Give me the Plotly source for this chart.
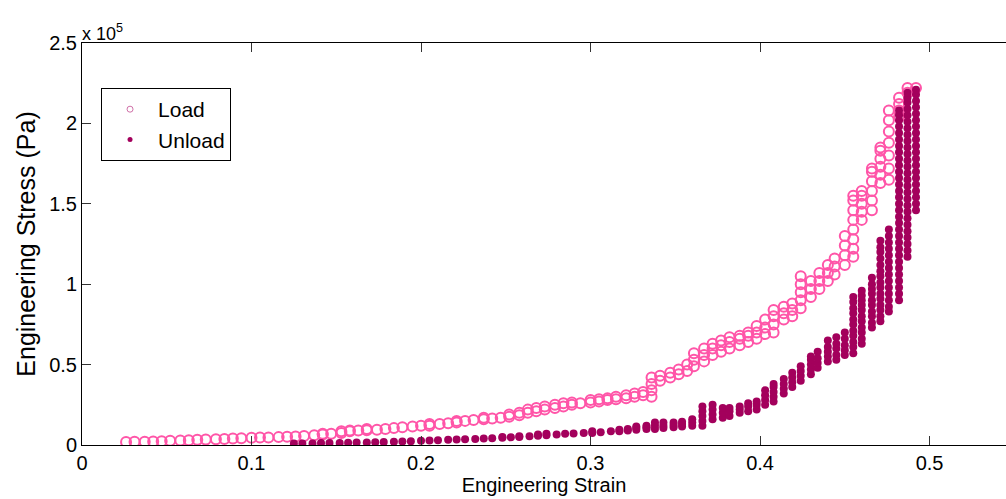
import plotly.graph_objects as go

# ---------------- data (stress in units of 1e5 Pa) ----------------
load_strain = [
    0.026, 0.031, 0.037, 0.042, 0.047, 0.052, 0.058, 0.063, 0.068, 0.073,
    0.079, 0.084, 0.089, 0.094, 0.100, 0.105, 0.110, 0.116, 0.121, 0.126,
    0.131, 0.137, 0.142, 0.147, 0.153, 0.158, 0.163, 0.168, 0.174, 0.179,
    0.184, 0.189, 0.195, 0.200, 0.205, 0.211, 0.216, 0.221, 0.226, 0.231,
    0.237, 0.242, 0.247, 0.252, 0.258, 0.263, 0.268, 0.273, 0.279, 0.284,
    0.289, 0.294, 0.300, 0.305, 0.310, 0.315, 0.321, 0.326, 0.331, 0.336,
    0.341, 0.347, 0.352, 0.357, 0.361, 0.367, 0.372, 0.377, 0.382, 0.388,
    0.393, 0.398, 0.403, 0.408, 0.414, 0.419, 0.424, 0.430, 0.435, 0.440,
    0.444, 0.450, 0.455, 0.460, 0.466, 0.471, 0.476, 0.482, 0.487, 0.492,
]
load_stress = [
    [0.018], [0.02], [0.02], [0.022], [0.024], [0.026], [0.028], [0.03], [0.032], [0.034],
    [0.036], [0.038], [0.04], [0.042], [0.045], [0.046], [0.047], [0.049], [0.051], [0.053],
    [0.056], [0.06], [0.065, 0.07], [0.07], [0.075, 0.085], [0.085, 0.09], [0.09], [0.092, 0.1], [0.095], [0.1],
    [0.105], [0.11], [0.115], [0.12], [0.12, 0.13], [0.13], [0.135], [0.14, 0.15], [0.15], [0.155],
    [0.16, 0.17], [0.165], [0.17], [0.175, 0.19], [0.185, 0.2], [0.2, 0.22], [0.21, 0.23], [0.22, 0.24], [0.23, 0.25], [0.24, 0.26],
    [0.25, 0.265], [0.26], [0.265, 0.28], [0.27, 0.285], [0.28, 0.29], [0.285, 0.3], [0.29, 0.31], [0.3, 0.32], [0.31, 0.33], [0.3, 0.34, 0.38, 0.42],
    [0.4, 0.43], [0.42, 0.45], [0.44, 0.47], [0.46, 0.5], [0.49, 0.53, 0.57], [0.52, 0.56, 0.6], [0.56, 0.6, 0.63], [0.58, 0.62, 0.65], [0.6, 0.64, 0.67], [0.62, 0.66, 0.68],
    [0.64, 0.68, 0.7], [0.66, 0.7, 0.74], [0.69, 0.73, 0.78], [0.7, 0.75, 0.8, 0.84], [0.78, 0.82, 0.86], [0.8, 0.84, 0.88], [0.85, 0.9, 0.95, 1.0, 1.05], [0.92, 0.97, 1.02], [0.97, 1.02, 1.07], [1.02, 1.07, 1.12],
    [1.06, 1.11, 1.16], [1.12, 1.18, 1.24, 1.3],
    [1.17, 1.22, 1.28, 1.34, 1.4, 1.46, 1.52, 1.55],
    [1.4, 1.45, 1.5, 1.55, 1.58],
    [1.46, 1.52, 1.58, 1.64, 1.7, 1.72],
    [1.63, 1.68, 1.73, 1.78, 1.83, 1.85],
    [1.65, 1.72, 1.8, 1.88, 1.95, 2.02, 2.08],
    [2.04, 2.08, 2.12, 2.16],
    [2.19, 2.22],
    [2.22],
]

unload_strain = [
    0.125, 0.130, 0.136, 0.141, 0.146, 0.152, 0.157, 0.162, 0.168, 0.173,
    0.178, 0.184, 0.189, 0.194, 0.200, 0.205, 0.210, 0.216, 0.221, 0.226,
    0.232, 0.237, 0.242, 0.248, 0.253, 0.258, 0.264, 0.269, 0.274, 0.280,
    0.285, 0.290, 0.296, 0.301, 0.306, 0.312, 0.317, 0.322, 0.327, 0.333,
    0.338, 0.343, 0.349, 0.354, 0.360, 0.366, 0.372, 0.378, 0.382, 0.388,
    0.393, 0.398, 0.403, 0.408, 0.414, 0.419, 0.424, 0.430, 0.434, 0.440,
    0.445, 0.450, 0.455, 0.460, 0.466, 0.471, 0.476, 0.482, 0.487, 0.492,
]
unload_stress = [
    [0.01], [0.01], [0.01], [0.012], [0.012], [0.013], [0.014], [0.015], [0.016], [0.017],
    [0.018], [0.02], [0.022], [0.024], [0.026], [0.028], [0.03], [0.032], [0.034], [0.036],
    [0.038], [0.04], [0.042], [0.045, 0.05], [0.048], [0.05, 0.055], [0.055], [0.058, 0.065], [0.06, 0.07], [0.065],
    [0.07], [0.072], [0.075], [0.075, 0.085], [0.08], [0.085], [0.085, 0.095], [0.09, 0.1], [0.095, 0.105, 0.115], [0.1, 0.11, 0.12],
    [0.1, 0.12, 0.14], [0.105, 0.12, 0.14], [0.11, 0.125, 0.14], [0.115, 0.13, 0.145], [0.12, 0.14, 0.16],
    [0.12, 0.15, 0.18, 0.21, 0.24], [0.16, 0.19, 0.22, 0.25], [0.17, 0.2, 0.23], [0.18, 0.21, 0.23], [0.2, 0.22, 0.24],
    [0.21, 0.24, 0.26], [0.22, 0.25, 0.27], [0.25, 0.28, 0.31, 0.34], [0.27, 0.3, 0.33, 0.36, 0.38], [0.32, 0.35, 0.38, 0.41],
    [0.36, 0.39, 0.42, 0.45], [0.4, 0.43, 0.46, 0.49], [0.44, 0.47, 0.5, 0.53, 0.55], [0.48, 0.51, 0.54, 0.58], [0.52, 0.55, 0.58, 0.61, 0.65],
    [0.53, 0.56, 0.6, 0.63, 0.67], [0.56, 0.59, 0.62, 0.66, 0.7],
    [0.57, 0.61, 0.64, 0.68, 0.71, 0.75, 0.78, 0.82, 0.85, 0.89, 0.92],
    [0.63, 0.66, 0.7, 0.73, 0.77, 0.8, 0.84, 0.87, 0.9, 0.93, 0.96],
    [0.73, 0.76, 0.8, 0.83, 0.87, 0.9, 0.94, 0.97, 1.0, 1.04],
    [0.77, 0.8, 0.84, 0.87, 0.91, 0.94, 0.98, 1.01, 1.05, 1.08, 1.12, 1.16, 1.2, 1.23, 1.27],
    [0.83, 0.86, 0.9, 0.94, 0.98, 1.02, 1.06, 1.1, 1.14, 1.18, 1.22, 1.26, 1.3, 1.34],
    [0.9, 0.94, 0.98, 1.02, 1.06, 1.1, 1.14, 1.18, 1.22, 1.26, 1.3, 1.34, 1.38, 1.42, 1.46, 1.5,
     1.54, 1.58, 1.62, 1.66, 1.7, 1.74, 1.78, 1.82, 1.86, 1.9, 1.94, 1.98, 2.02, 2.05, 2.08],
    [1.17, 1.21, 1.25, 1.29, 1.33, 1.37, 1.41, 1.45, 1.49, 1.53, 1.57, 1.61, 1.65, 1.69, 1.73,
     1.77, 1.81, 1.85, 1.89, 1.93, 1.97, 2.01, 2.05, 2.09, 2.13, 2.16, 2.19],
    [1.46, 1.5, 1.54, 1.58, 1.62, 1.66, 1.7, 1.74, 1.78, 1.82, 1.86, 1.9, 1.94, 1.98, 2.02,
     2.06, 2.1, 2.14, 2.18, 2.21],
]

x_ticks = [0, 0.1, 0.2, 0.3, 0.4, 0.5]
x_tick_labels = ["0", "0.1", "0.2", "0.3", "0.4", "0.5"]
y_ticks = [0, 0.5, 1, 1.5, 2, 2.5]
y_tick_labels = ["0", "0.5", "1", "1.5", "2", "2.5"]

LOAD_COLOR = "#FF55A8"
UNLOAD_COLOR = "#A3005C"
FONT = "Liberation Sans, Arial, sans-serif"


def flatten(strains, stresses):
    xs, ys = [], []
    for s, col in zip(strains, stresses):
        for v in col:
            xs.append(s)
            ys.append(v)
    return xs, ys


lx, ly = flatten(load_strain, load_stress)
ux, uy = flatten(unload_strain, unload_stress)

fig = go.Figure()
fig.add_trace(go.Scatter(
    x=lx, y=ly, mode="markers", name="Load", showlegend=False,
    marker=dict(symbol="circle-open", size=10, color=LOAD_COLOR, line=dict(width=2, color=LOAD_COLOR)),
))
fig.add_trace(go.Scatter(
    x=ux, y=uy, mode="markers", name="Unload", showlegend=False,
    marker=dict(symbol="circle", size=8, color=UNLOAD_COLOR),
))
# legend entries (smaller markers as in the original legend)
fig.add_trace(go.Scatter(
    x=[None], y=[None], mode="markers", name="Load",
    marker=dict(symbol="circle-open", size=6, color="#D070A8", line=dict(width=1, color="#D070A8")),
))
fig.add_trace(go.Scatter(
    x=[None], y=[None], mode="markers", name="Unload",
    marker=dict(symbol="circle", size=5, color=UNLOAD_COLOR),
))

fig.update_layout(
    width=1006, height=499,
    margin=dict(l=82, r=0, t=43, b=54),
    paper_bgcolor="white", plot_bgcolor="white",
    font=dict(family=FONT, size=20, color="black"),
    legend=dict(
        x=0.0206, y=0.888, xanchor="left", yanchor="top",
        bgcolor="white", bordercolor="black", borderwidth=1,
        font=dict(size=21), itemwidth=46,
    ),
    xaxis=dict(
        range=[0, 0.5451], tickvals=x_ticks, ticktext=x_tick_labels,
        ticks="inside", ticklen=9, tickcolor="#333", showgrid=False, zeroline=False,
        showline=True, linecolor="black", linewidth=1, mirror="ticks",
        title=dict(text="Engineering Strain", font=dict(size=20), standoff=2),
        tickfont=dict(size=20),
    ),
    yaxis=dict(
        range=[0, 2.5], tickvals=y_ticks, ticktext=y_tick_labels,
        ticks="inside", ticklen=9, tickcolor="#333", showgrid=False, zeroline=False,
        showline=True, linecolor="black", linewidth=1, mirror=False,
        title=dict(text="Engineering Stress (Pa)", font=dict(size=25), standoff=6),
        tickfont=dict(size=20),
    ),
    annotations=[dict(
        x=0, y=1, xref="paper", yref="paper", xanchor="left", yanchor="bottom",
        text="x 10<sup>5</sup>", showarrow=False, font=dict(size=18), xshift=-2, yshift=-3,
    )],
)

fig.write_html("out.html")
